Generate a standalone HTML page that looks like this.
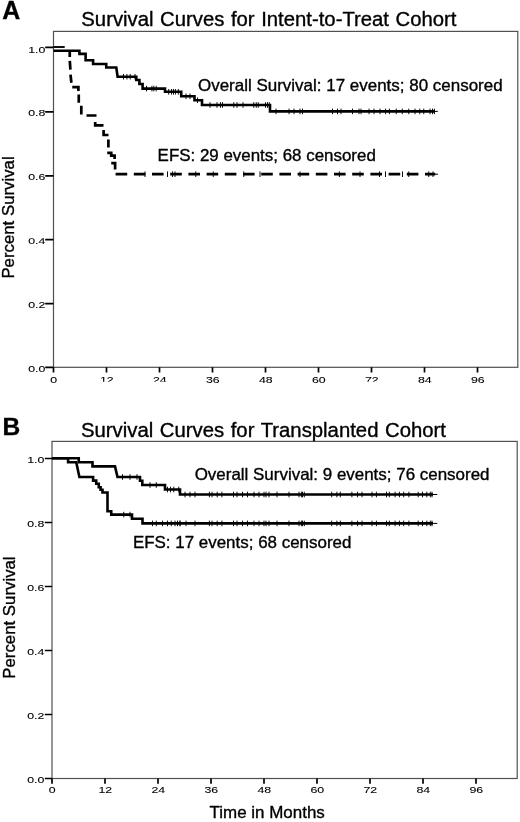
<!DOCTYPE html>
<html><head><meta charset="utf-8"><title>Survival Curves</title>
<style>
html,body{margin:0;padding:0;background:#fff;}
body{width:520px;height:822px;overflow:hidden;font-family:"Liberation Sans",sans-serif;}
svg{display:block;will-change:transform;}
svg text{font-family:"Liberation Sans",sans-serif;fill:#000;stroke:#000;stroke-width:0.35px;stroke-linejoin:round;}
svg text.tk{stroke-width:0.1px;}
</style></head><body>
<svg width="520" height="822" viewBox="0 0 520 822">
<rect x="53.5" y="31.4" width="464.3" height="335.9" fill="none" stroke="#505050" stroke-width="1.2"/>
<path d="M45.2,47.30H53.5M45.2,111.96H53.5M45.2,175.82H53.5M45.2,239.68H53.5M45.2,303.54H53.5M45.2,367.40H53.5M53.50,367.3V372.6M106.50,367.3V372.6M159.50,367.3V372.6M212.50,367.3V372.6M265.50,367.3V372.6M318.50,367.3V372.6M371.50,367.3V372.6M424.50,367.3V372.6M477.50,367.3V372.6" stroke="#000" stroke-width="1.7" fill="none"/>
<defs><clipPath id="cb"><rect x="80" y="370" width="320" height="11.75"/></clipPath><clipPath id="c4"><rect x="20" y="238.2" width="30" height="12"/></clipPath><clipPath id="c2"><rect x="20" y="295" width="30" height="13.3"/></clipPath></defs>
<g><text transform="translate(45.3,52.60) scale(1.26,1)" font-size="9.8" class="tk" text-anchor="end">1.0</text></g>
<g><text transform="translate(45.3,116.46) scale(1.26,1)" font-size="9.8" class="tk" text-anchor="end">0.8</text></g>
<g><text transform="translate(45.3,180.32) scale(1.26,1)" font-size="9.8" class="tk" text-anchor="end">0.6</text></g>
<g clip-path="url(#c4)"><text transform="translate(45.3,244.18) scale(1.26,1)" font-size="9.8" class="tk" text-anchor="end">0.4</text></g>
<g clip-path="url(#c2)"><text transform="translate(45.3,308.44) scale(1.26,1)" font-size="9.8" class="tk" text-anchor="end">0.2</text></g>
<g><text transform="translate(45.3,371.90) scale(1.26,1)" font-size="9.8" class="tk" text-anchor="end">0.0</text></g>
<g><text transform="translate(53.80,382.8) scale(1.26,1)" font-size="9.8" class="tk" text-anchor="middle">0</text></g>
<g clip-path="url(#cb)"><text transform="translate(106.80,382.8) scale(1.26,1)" font-size="9.8" class="tk" text-anchor="middle">12</text></g>
<g clip-path="url(#cb)"><text transform="translate(159.80,382.8) scale(1.26,1)" font-size="9.8" class="tk" text-anchor="middle">24</text></g>
<g><text transform="translate(212.80,382.8) scale(1.26,1)" font-size="9.8" class="tk" text-anchor="middle">36</text></g>
<g><text transform="translate(265.80,382.8) scale(1.26,1)" font-size="9.8" class="tk" text-anchor="middle">48</text></g>
<g><text transform="translate(318.80,382.8) scale(1.26,1)" font-size="9.8" class="tk" text-anchor="middle">60</text></g>
<g clip-path="url(#cb)"><text transform="translate(371.80,382.8) scale(1.26,1)" font-size="9.8" class="tk" text-anchor="middle">72</text></g>
<g><text transform="translate(424.80,382.8) scale(1.26,1)" font-size="9.8" class="tk" text-anchor="middle">84</text></g>
<g><text transform="translate(477.80,382.8) scale(1.26,1)" font-size="9.8" class="tk" text-anchor="middle">96</text></g>
<text x="2.3" y="18.9" font-size="24.9" font-weight="bold" text-anchor="start" >A</text>
<text x="81.3" y="26.4" font-size="19.9" font-weight="normal" text-anchor="start" textLength="375.2" lengthAdjust="spacingAndGlyphs" word-spacing="0.9">Survival Curves for Intent-to-Treat Cohort</text>
<text x="198.0" y="91.3" font-size="16.5" font-weight="normal" text-anchor="start" textLength="304.6" lengthAdjust="spacingAndGlyphs" >Overall Survival: 17 events; 80 censored</text>
<text x="157.6" y="161.0" font-size="16.5" font-weight="normal" text-anchor="start" textLength="218.2" lengthAdjust="spacingAndGlyphs" >EFS: 29 events; 68 censored</text>
<text transform="translate(14.0,278.6) rotate(-90)" font-size="16.7" textLength="122.3" lengthAdjust="spacingAndGlyphs">Percent Survival</text>
<path d="M53.5,50.7 H79.4 V53.9 H85.6 V60.3 H93.1 V64 H106.25 V67.5 H116.3 L117.6,76.7 H136.3 V80 H139.4 V84 H142.6 V88.6 H165 V91.8 H181.2 V96.3 H194.5 V100.2 H202 V105 H270 V111.4 H435" stroke="#000" stroke-width="2.6" fill="none" stroke-linejoin="miter"/>
<path d="M435,111.4H437.8" stroke="#000" stroke-width="1" fill="none"/>
<path d="M123.50,73.90V79.50M126.90,73.90V79.50M130.20,73.90V79.50M135.00,73.90V79.50" stroke="#000" stroke-width="0.95" fill="none"/>
<path d="M146.50,85.80V91.40M151.90,85.80V91.40M153.80,85.80V91.40M156.20,85.80V91.40" stroke="#000" stroke-width="0.95" fill="none"/>
<path d="M168.70,89.00V94.60M171.50,89.00V94.60M173.50,89.00V94.60M175.40,89.00V94.60M178.30,89.00V94.60" stroke="#000" stroke-width="0.95" fill="none"/>
<path d="M186.00,93.50V99.10M190.00,93.50V99.10" stroke="#000" stroke-width="0.95" fill="none"/>
<path d="M197.50,97.40V103.00" stroke="#000" stroke-width="0.95" fill="none"/>
<path d="M210.00,102.20V107.80M217.00,102.20V107.80M220.50,102.20V107.80M222.50,102.20V107.80M233.75,102.20V107.80M237.00,102.20V107.80M243.00,102.20V107.80M253.75,102.20V107.80M256.25,102.20V107.80M258.25,102.20V107.80M265.50,102.20V107.80M267.50,102.20V107.80M269.30,102.20V107.80" stroke="#000" stroke-width="0.95" fill="none"/>
<path d="M276.00,108.60V114.20M289.00,108.60V114.20M294.00,108.60V114.20M300.00,108.60V114.20M302.50,108.60V114.20M332.50,108.60V114.20M337.50,108.60V114.20M341.00,108.60V114.20M352.50,108.60V114.20M359.00,108.60V114.20M361.00,108.60V114.20M369.00,108.60V114.20M374.00,108.60V114.20M380.00,108.60V114.20M385.60,108.60V114.20M389.40,108.60V114.20M396.25,108.60V114.20M402.25,108.60V114.20M408.75,108.60V114.20M415.00,108.60V114.20M419.75,108.60V114.20M423.75,108.60V114.20M430.00,108.60V114.20M432.50,108.60V114.20M434.40,108.60V114.20" stroke="#000" stroke-width="0.95" fill="none"/>
<path d="M53.5,47.0H64.7" stroke="#000" stroke-width="1.9" fill="none"/>
<path d="M69.75,50 V57.1 M69.8,60.9 L70.4,69.6 M70.5,74.6 L71.4,82.75 M72.25,87.1 H78.4 V90.9 M78.75,94.6 V102.75 M81.3,105.7 V114.4 M86.5,115.5 H96.5 M95.2,121.9 V125.3 H103.5 M103.6,130 V135 H108.5 M108.4,139.4 V147.5 M107.25,152.9 H111.25 V155.6 H114.6 V159 M111.25,163.1 H115.1 V169.4 M115.60,174.2H127.20 M133.80,174.2H145.40 M152.00,174.2H163.60 M170.20,174.2H181.80 M188.40,174.2H200.00 M206.60,174.2H218.20 M224.80,174.2H236.40 M243.00,174.2H254.60 M261.20,174.2H272.80 M279.40,174.2H291.00 M297.60,174.2H309.20 M315.80,174.2H327.40 M334.00,174.2H345.60 M352.20,174.2H363.80 M370.40,174.2H382.00 M388.60,174.2H400.20 M406.80,174.2H418.40 M425.00,174.2H435.20" stroke="#000" stroke-width="2.7" fill="none"/>
<path d="M434,174.2H438" stroke="#000" stroke-width="1" fill="none"/>
<path d="M145.00,171.40V177.00M167.50,171.40V177.00M172.50,171.40V177.00M175.00,171.40V177.00M195.75,171.40V177.00M213.25,171.40V177.00M243.75,171.40V177.00M260.00,171.40V177.00M300.00,171.40V177.00M339.40,171.40V177.00M360.00,171.40V177.00M379.50,171.40V177.00M385.50,171.40V177.00M402.50,171.40V177.00M408.75,171.40V177.00M428.75,171.40V177.00M433.00,171.40V177.00" stroke="#000" stroke-width="0.95" fill="none"/>
<rect x="52.0" y="441.4" width="465.2" height="337.1" fill="none" stroke="#505050" stroke-width="1.2"/>
<path d="M44.8,458.50H52M44.8,522.50H52M44.8,586.50H52M44.8,650.50H52M44.8,714.50H52M44.8,778.50H52M52.00,778.5V783.8M105.00,778.5V783.8M158.00,778.5V783.8M211.00,778.5V783.8M264.00,778.5V783.8M317.00,778.5V783.8M370.00,778.5V783.8M423.00,778.5V783.8M476.00,778.5V783.8" stroke="#000" stroke-width="1.7" fill="none"/>
<text transform="translate(44.4,463.40) scale(1.26,1)" font-size="9.8" class="tk" text-anchor="end">1.0</text>
<text transform="translate(44.4,527.40) scale(1.26,1)" font-size="9.8" class="tk" text-anchor="end">0.8</text>
<text transform="translate(44.4,591.40) scale(1.26,1)" font-size="9.8" class="tk" text-anchor="end">0.6</text>
<text transform="translate(44.4,655.40) scale(1.26,1)" font-size="9.8" class="tk" text-anchor="end">0.4</text>
<text transform="translate(44.4,719.40) scale(1.26,1)" font-size="9.8" class="tk" text-anchor="end">0.2</text>
<text transform="translate(44.4,783.40) scale(1.26,1)" font-size="9.8" class="tk" text-anchor="end">0.0</text>
<text transform="translate(52.30,793.1) scale(1.26,1)" font-size="9.8" class="tk" text-anchor="middle">0</text>
<text transform="translate(105.30,793.1) scale(1.26,1)" font-size="9.8" class="tk" text-anchor="middle">12</text>
<text transform="translate(158.30,793.1) scale(1.26,1)" font-size="9.8" class="tk" text-anchor="middle">24</text>
<text transform="translate(211.30,793.1) scale(1.26,1)" font-size="9.8" class="tk" text-anchor="middle">36</text>
<text transform="translate(264.30,793.1) scale(1.26,1)" font-size="9.8" class="tk" text-anchor="middle">48</text>
<text transform="translate(317.30,793.1) scale(1.26,1)" font-size="9.8" class="tk" text-anchor="middle">60</text>
<text transform="translate(370.30,793.1) scale(1.26,1)" font-size="9.8" class="tk" text-anchor="middle">72</text>
<text transform="translate(423.30,793.1) scale(1.26,1)" font-size="9.8" class="tk" text-anchor="middle">84</text>
<text transform="translate(476.30,793.1) scale(1.26,1)" font-size="9.8" class="tk" text-anchor="middle">96</text>
<text x="2.6" y="435.3" font-size="24.5" font-weight="bold" text-anchor="start" >B</text>
<text x="81.0" y="437.0" font-size="19.9" font-weight="normal" text-anchor="start" textLength="365" lengthAdjust="spacingAndGlyphs" word-spacing="0.9">Survival Curves for Transplanted Cohort</text>
<text x="194.7" y="480.1" font-size="16.5" font-weight="normal" text-anchor="start" textLength="294.8" lengthAdjust="spacingAndGlyphs" >Overall Survival: 9 events; 76 censored</text>
<text x="132.9" y="548.0" font-size="16.5" font-weight="normal" text-anchor="start" textLength="218.5" lengthAdjust="spacingAndGlyphs" >EFS: 17 events; 68 censored</text>
<text transform="translate(14.8,678.7) rotate(-90)" font-size="16.7" textLength="122.3" lengthAdjust="spacingAndGlyphs">Percent Survival</text>
<text x="209.6" y="818.3" font-size="16.3" font-weight="normal" text-anchor="start" textLength="115.2" lengthAdjust="spacingAndGlyphs" >Time in Months</text>
<path d="M52,458.2 H78.75 V462.3 H92.5 V466.4 H115 L117.5,477 H140 V480.75 H142.3 V485 H165 V489.5 H180 V494.5 H433" stroke="#000" stroke-width="2.6" fill="none"/>
<path d="M52,458.2 H68.1 V462.3 H76.25 L79.4,477 H93.1 V480.6 H96.25 V483.75 H98.75 V487.25 H100.6 V489.75 H102.5 V492.5 H107.5 V511.25 H111.25 V514.6 H132 V518.75 H142.5 V523.4 H433" stroke="#000" stroke-width="2.6" fill="none"/>
<path d="M432,494.5H437.3M432,523.4H437.3" stroke="#000" stroke-width="1" fill="none"/>
<path d="M122.50,474.20V479.80M130.00,474.20V479.80M137.00,474.20V479.80" stroke="#000" stroke-width="0.95" fill="none"/>
<path d="M150.00,482.20V487.80M156.25,482.20V487.80" stroke="#000" stroke-width="0.95" fill="none"/>
<path d="M167.50,486.70V492.30M170.50,486.70V492.30M173.75,486.70V492.30M178.75,486.70V492.30" stroke="#000" stroke-width="0.95" fill="none"/>
<path d="M185.00,491.70V497.30M190.00,491.70V497.30M195.00,491.70V497.30M209.40,491.70V497.30M212.00,491.70V497.30M217.20,491.70V497.30M221.90,491.70V497.30M233.50,491.70V497.30M237.00,491.70V497.30M242.50,491.70V497.30M247.50,491.70V497.30M254.00,491.70V497.30M259.00,491.70V497.30M264.00,491.70V497.30M266.00,491.70V497.30M269.00,491.70V497.30M277.00,491.70V497.30M289.00,491.70V497.30M299.00,491.70V497.30M302.50,491.70V497.30M301.40,491.70V497.30M304.30,491.70V497.30M331.70,491.70V497.30M336.90,491.70V497.30M340.30,491.70V497.30M351.90,491.70V497.30M357.60,491.70V497.30M362.00,491.70V497.30M372.00,491.70V497.30M376.40,491.70V497.30M386.50,491.70V497.30M389.30,491.70V497.30M395.10,491.70V497.30M399.40,491.70V497.30M403.70,491.70V497.30M408.90,491.70V497.30M418.20,491.70V497.30M422.50,491.70V497.30M426.80,491.70V497.30M430.30,491.70V497.30M432.00,491.70V497.30" stroke="#000" stroke-width="0.95" fill="none"/>
<path d="M123.75,511.80V517.40M130.00,511.80V517.40" stroke="#000" stroke-width="0.95" fill="none"/>
<path d="M152.50,520.60V526.20M156.25,520.60V526.20M162.50,520.60V526.20M167.50,520.60V526.20M171.25,520.60V526.20M175.00,520.60V526.20M180.00,520.60V526.20M177.50,520.60V526.20M180.00,520.60V526.20M186.00,520.60V526.20M195.00,520.60V526.20M209.40,520.60V526.20M212.00,520.60V526.20M217.20,520.60V526.20M221.90,520.60V526.20M233.50,520.60V526.20M237.00,520.60V526.20M242.50,520.60V526.20M247.50,520.60V526.20M254.00,520.60V526.20M259.00,520.60V526.20M264.00,520.60V526.20M266.00,520.60V526.20M269.00,520.60V526.20M277.00,520.60V526.20M289.00,520.60V526.20M299.00,520.60V526.20M302.50,520.60V526.20M301.40,520.60V526.20M304.30,520.60V526.20M331.70,520.60V526.20M336.90,520.60V526.20M340.30,520.60V526.20M351.90,520.60V526.20M357.60,520.60V526.20M362.00,520.60V526.20M372.00,520.60V526.20M376.40,520.60V526.20M386.50,520.60V526.20M389.30,520.60V526.20M395.10,520.60V526.20M399.40,520.60V526.20M403.70,520.60V526.20M408.90,520.60V526.20M418.20,520.60V526.20M422.50,520.60V526.20M426.80,520.60V526.20M430.30,520.60V526.20M432.00,520.60V526.20" stroke="#000" stroke-width="0.95" fill="none"/>
</svg>
</body></html>
